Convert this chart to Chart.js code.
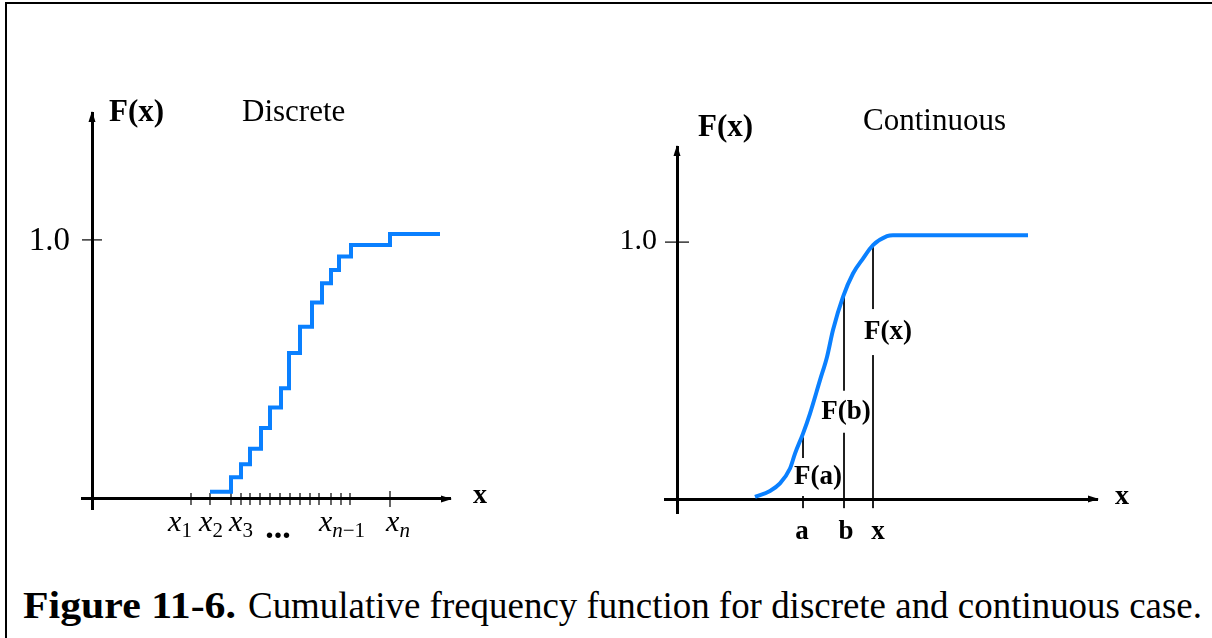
<!DOCTYPE html>
<html>
<head>
<meta charset="utf-8">
<script src="https://cdn.jsdelivr.net/npm/chart.js@4.4.1/dist/chart.umd.min.js"></script>
<style>
  html, body { margin: 0; padding: 0; background: #fff; }
  body { width: 1212px; height: 638px; position: relative; overflow: hidden; font-family: "Liberation Serif", "DejaVu Serif", serif; }
  #frame { position: absolute; left: 5px; top: 2px; width: 1240px; height: 700px; border-top: 2px solid #000; border-left: 2px solid #000; }
  #discreteChart { position: absolute; left: 0; top: 0; }
  #continuousChart { position: absolute; left: 600px; top: 0; }
  .cap { position: absolute; top: 586px; font-size: 38px; line-height: 38px; white-space: nowrap; transform-origin: left top; color: #000; }
  #capLead { left: 23px; font-weight: bold; }
  #capText { left: 248px; }
</style>
</head>
<body>
<div id="frame"></div>
<canvas id="discreteChart" width="600" height="570"></canvas>
<canvas id="continuousChart" width="612" height="570"></canvas>
<span class="cap" id="capLead">Figure 11-6.</span>
<span class="cap" id="capText">Cumulative frequency function for discrete and continuous case.</span>
<script>
// --- Discrete case: where each step starts and its height ---
const stepX = [11.8, 13.9, 14.9, 15.8, 16.9, 17.8, 18.9, 19.7, 20.8, 22.0, 23.0, 23.9, 24.7, 25.9, 29.8, 34.8];
const stepF = [0.028, 0.084, 0.134, 0.194, 0.274, 0.353, 0.427, 0.563, 0.665, 0.758, 0.833, 0.884, 0.936, 0.980, 1.023, 1.023];
const discreteTickX = [9.9, 11.8, 13.9, 14.9, 15.8, 16.8, 17.8, 18.8, 19.8, 20.8, 21.8, 22.7, 23.9, 24.9, 25.8, 29.8];
const discreteLabelX = [8.8, 11.9, 14.9, 25.0, 30.6];
const discreteLabelSub = ['1', '2', '3', 'n\u22121', 'n'];
const dotsX = 18.6;

// --- Continuous case: S-shaped cumulative curve ---
const curveX = [7.8, 9.3, 10.3, 11.3, 11.8, 12.6, 13.3, 14.3, 15.0, 15.6, 16.6, 17.6, 18.6, 19.6, 21.0, 21.6, 35.1];
const curveF = [0.009, 0.032, 0.061, 0.119, 0.177, 0.255, 0.333, 0.463, 0.553, 0.658, 0.787, 0.878, 0.936, 0.988, 1.023, 1.027, 1.027];
const markNames = ['a', 'b', 'x'];
const markX = [12.6, 16.7, 19.6];
const markF = [0.24, 0.79, 0.98];
const markLabelF = [0.086, 0.34, 0.65]; // height at which F(a), F(b), F(x) are written

const yTickValue = 1.0;
const yTickLabel = '1.0';

const BLUE = '#0a80ff';
const SERIF = '"Liberation Serif", "DejaVu Serif", serif';

function drawText(ctx, str, x, y, font, align) {
    ctx.font = font;
    ctx.textAlign = align || 'center';
    ctx.textBaseline = 'middle';
    ctx.fillStyle = '#000';
    ctx.fillText(str, x, y);
}

function drawArrows(chart) {
    const { ctx, chartArea, scales } = chart;
    const x0 = scales.x.getPixelForValue(0);
    const y0 = scales.y.getPixelForValue(0);
    ctx.save();
    ctx.fillStyle = '#000';
    ctx.beginPath();
    ctx.moveTo(x0, chartArea.top - 2);
    ctx.lineTo(x0 - 3.5, chartArea.top + 9);
    ctx.lineTo(x0 + 3.5, chartArea.top + 9);
    ctx.closePath();
    ctx.fill();
    ctx.beginPath();
    ctx.moveTo(chartArea.right + 2, y0);
    ctx.lineTo(chartArea.right - 9, y0 - 3.5);
    ctx.lineTo(chartArea.right - 9, y0 + 3.5);
    ctx.closePath();
    ctx.fill();
    ctx.restore();
}

// x with a subscript, letters italic, digits and minus upright (TeX style)
function drawMathLabel(ctx, sub, cx, baseline) {
    const big = 'italic 30px ' + SERIF;
    const parts = [{ t: 'x', font: big, dy: 0 }];
    for (const ch of sub) {
        const isLetter = /[a-z]/.test(ch);
        parts.push({ t: ch, font: (isLetter ? 'italic ' : '') + '21px ' + SERIF, dy: 6 });
    }
    let total = 0;
    parts.forEach(p => { ctx.font = p.font; p.w = ctx.measureText(p.t).width; total += p.w; });
    let x = cx - total / 2;
    ctx.textAlign = 'left';
    ctx.textBaseline = 'alphabetic';
    ctx.fillStyle = '#000';
    parts.forEach(p => { ctx.font = p.font; ctx.fillText(p.t, x, baseline + p.dy); x += p.w; });
}

const axisScale = (min, max, pos) => ({
    type: 'linear', min: min, max: max, position: pos,
    grid: { display: false }, ticks: { display: false },
    border: { display: true, color: '#000', width: 3 }
});

const discreteDecor = {
    id: 'discreteDecor',
    afterDraw(chart) {
        const { ctx, chartArea, scales } = chart;
        const x0 = scales.x.getPixelForValue(0);
        const y0 = scales.y.getPixelForValue(0);
        ctx.save();
        drawArrows(chart);
        drawText(ctx, 'F(x)', x0 + 17, chartArea.top, 'bold 31px ' + SERIF, 'left');
        drawText(ctx, 'Discrete', x0 + 150, chartArea.top, '31px ' + SERIF, 'left');
        drawText(ctx, yTickLabel, x0 - 22, scales.y.getPixelForValue(yTickValue) + 1, '33px ' + SERIF, 'right');
        drawText(ctx, 'x', chartArea.right + 23, y0 - 3, 'bold 28px ' + SERIF, 'left');
        discreteLabelX.forEach((v, i) => drawMathLabel(ctx, discreteLabelSub[i], scales.x.getPixelForValue(v), y0 + 32));
        drawText(ctx, '...', scales.x.getPixelForValue(dotsX), y0 + 30, 'bold 34px ' + SERIF, 'center');
        ctx.restore();
    }
};

const continuousDecor = {
    id: 'continuousDecor',
    afterDraw(chart) {
        const { ctx, chartArea, scales } = chart;
        const x0 = scales.x.getPixelForValue(0);
        const y0 = scales.y.getPixelForValue(0);
        ctx.save();
        drawArrows(chart);
        drawText(ctx, 'F(x)', x0 + 21, chartArea.top - 19, 'bold 31px ' + SERIF, 'left');
        drawText(ctx, 'Continuous', x0 + 186, chartArea.top - 25, '31px ' + SERIF, 'left');
        drawText(ctx, yTickLabel, x0 - 20, scales.y.getPixelForValue(yTickValue) - 1, '30px ' + SERIF, 'right');
        drawText(ctx, 'x', chartArea.right + 18, y0 - 2, 'bold 28px ' + SERIF, 'left');
        const labelDx = [15, 2, 15];
        const gapHalf = [19, 21, 23];
        const bottomDx = [-1, 2, 5];
        markX.forEach((v, i) => {
            const lx = scales.x.getPixelForValue(v);
            const ly = scales.y.getPixelForValue(markLabelF[i]);
            // break the thin line where the label sits
            ctx.fillStyle = '#fff';
            ctx.fillRect(lx - 2, ly - gapHalf[i], 4, gapHalf[i] * 2);
            drawText(ctx, 'F(' + markNames[i] + ')', lx + labelDx[i], ly, 'bold 27px ' + SERIF, 'center');
            drawText(ctx, markNames[i], lx + bottomDx[i], y0 + 33, 'bold 27px ' + SERIF, 'center');
        });
        ctx.restore();
    }
};

const baseOptions = {
    responsive: false,
    animation: false,
    events: [],
    plugins: { legend: { display: false }, tooltip: { enabled: false } }
};

new Chart(document.getElementById('discreteChart'), {
    type: 'scatter',
    data: {
        datasets: [
            {
                data: stepX.map((x, i) => ({ x: x, y: stepF[i] })),
                showLine: true, stepped: true, borderColor: BLUE, borderWidth: 4, pointRadius: 0, fill: false
            },
            {
                data: discreteTickX.map(x => ({ x: x, y: 0 })),
                pointStyle: 'line', rotation: 90,
                pointRadius: discreteTickX.map((x, i) => i === discreteTickX.length - 1 ? 8 : 6),
                pointBorderColor: '#000', pointBorderWidth: 1.2
            },
            {
                data: [{ x: 0, y: yTickValue }],
                pointStyle: 'line', rotation: 0, pointRadius: 10, pointBorderColor: '#000', pointBorderWidth: 1.2
            }
        ]
    },
    options: Object.assign({}, baseOptions, {
        layout: { padding: { left: 82, right: 150, top: 113, bottom: 61 } },
        scales: { x: axisScale(-1.0, 35.8, { y: 0 }), y: axisScale(-0.039, 1.49, { x: 0 }) }
    }),
    plugins: [discreteDecor]
});

const markDrop = -0.035; // thin lines run a little below the axis
new Chart(document.getElementById('continuousChart'), {
    type: 'scatter',
    data: {
        datasets: [
            {
                data: curveX.map((x, i) => ({ x: x, y: curveF[i] })),
                showLine: true, borderColor: BLUE, borderWidth: 4, pointRadius: 0,
                cubicInterpolationMode: 'monotone', fill: false
            },
            ...markX.map((x, i) => ({
                data: [{ x: x, y: markF[i] }, { x: x, y: markDrop }],
                showLine: true, borderColor: '#000', borderWidth: 1, pointRadius: 0
            })),
            {
                data: [{ x: 0, y: yTickValue }],
                pointStyle: 'line', rotation: 0, pointRadius: 12, pointBorderColor: '#000', pointBorderWidth: 1.2
            }
        ]
    },
    options: Object.assign({}, baseOptions, {
        layout: { padding: { left: 65, right: 115, top: 147, bottom: 57 } },
        scales: { x: axisScale(-1.2, 42.0, { y: 0 }), y: axisScale(-0.054, 1.37, { x: 0 }) }
    }),
    plugins: [continuousDecor]
});

// fit each caption part to the width it has in the figure
function fitWidth(id, target) {
    const el = document.getElementById(id);
    const w = el.getBoundingClientRect().width;
    el.style.transform = 'scaleX(' + (target / w).toFixed(4) + ')';
}
fitWidth('capLead', 213);
fitWidth('capText', 954);
</script>
</body>
</html>
